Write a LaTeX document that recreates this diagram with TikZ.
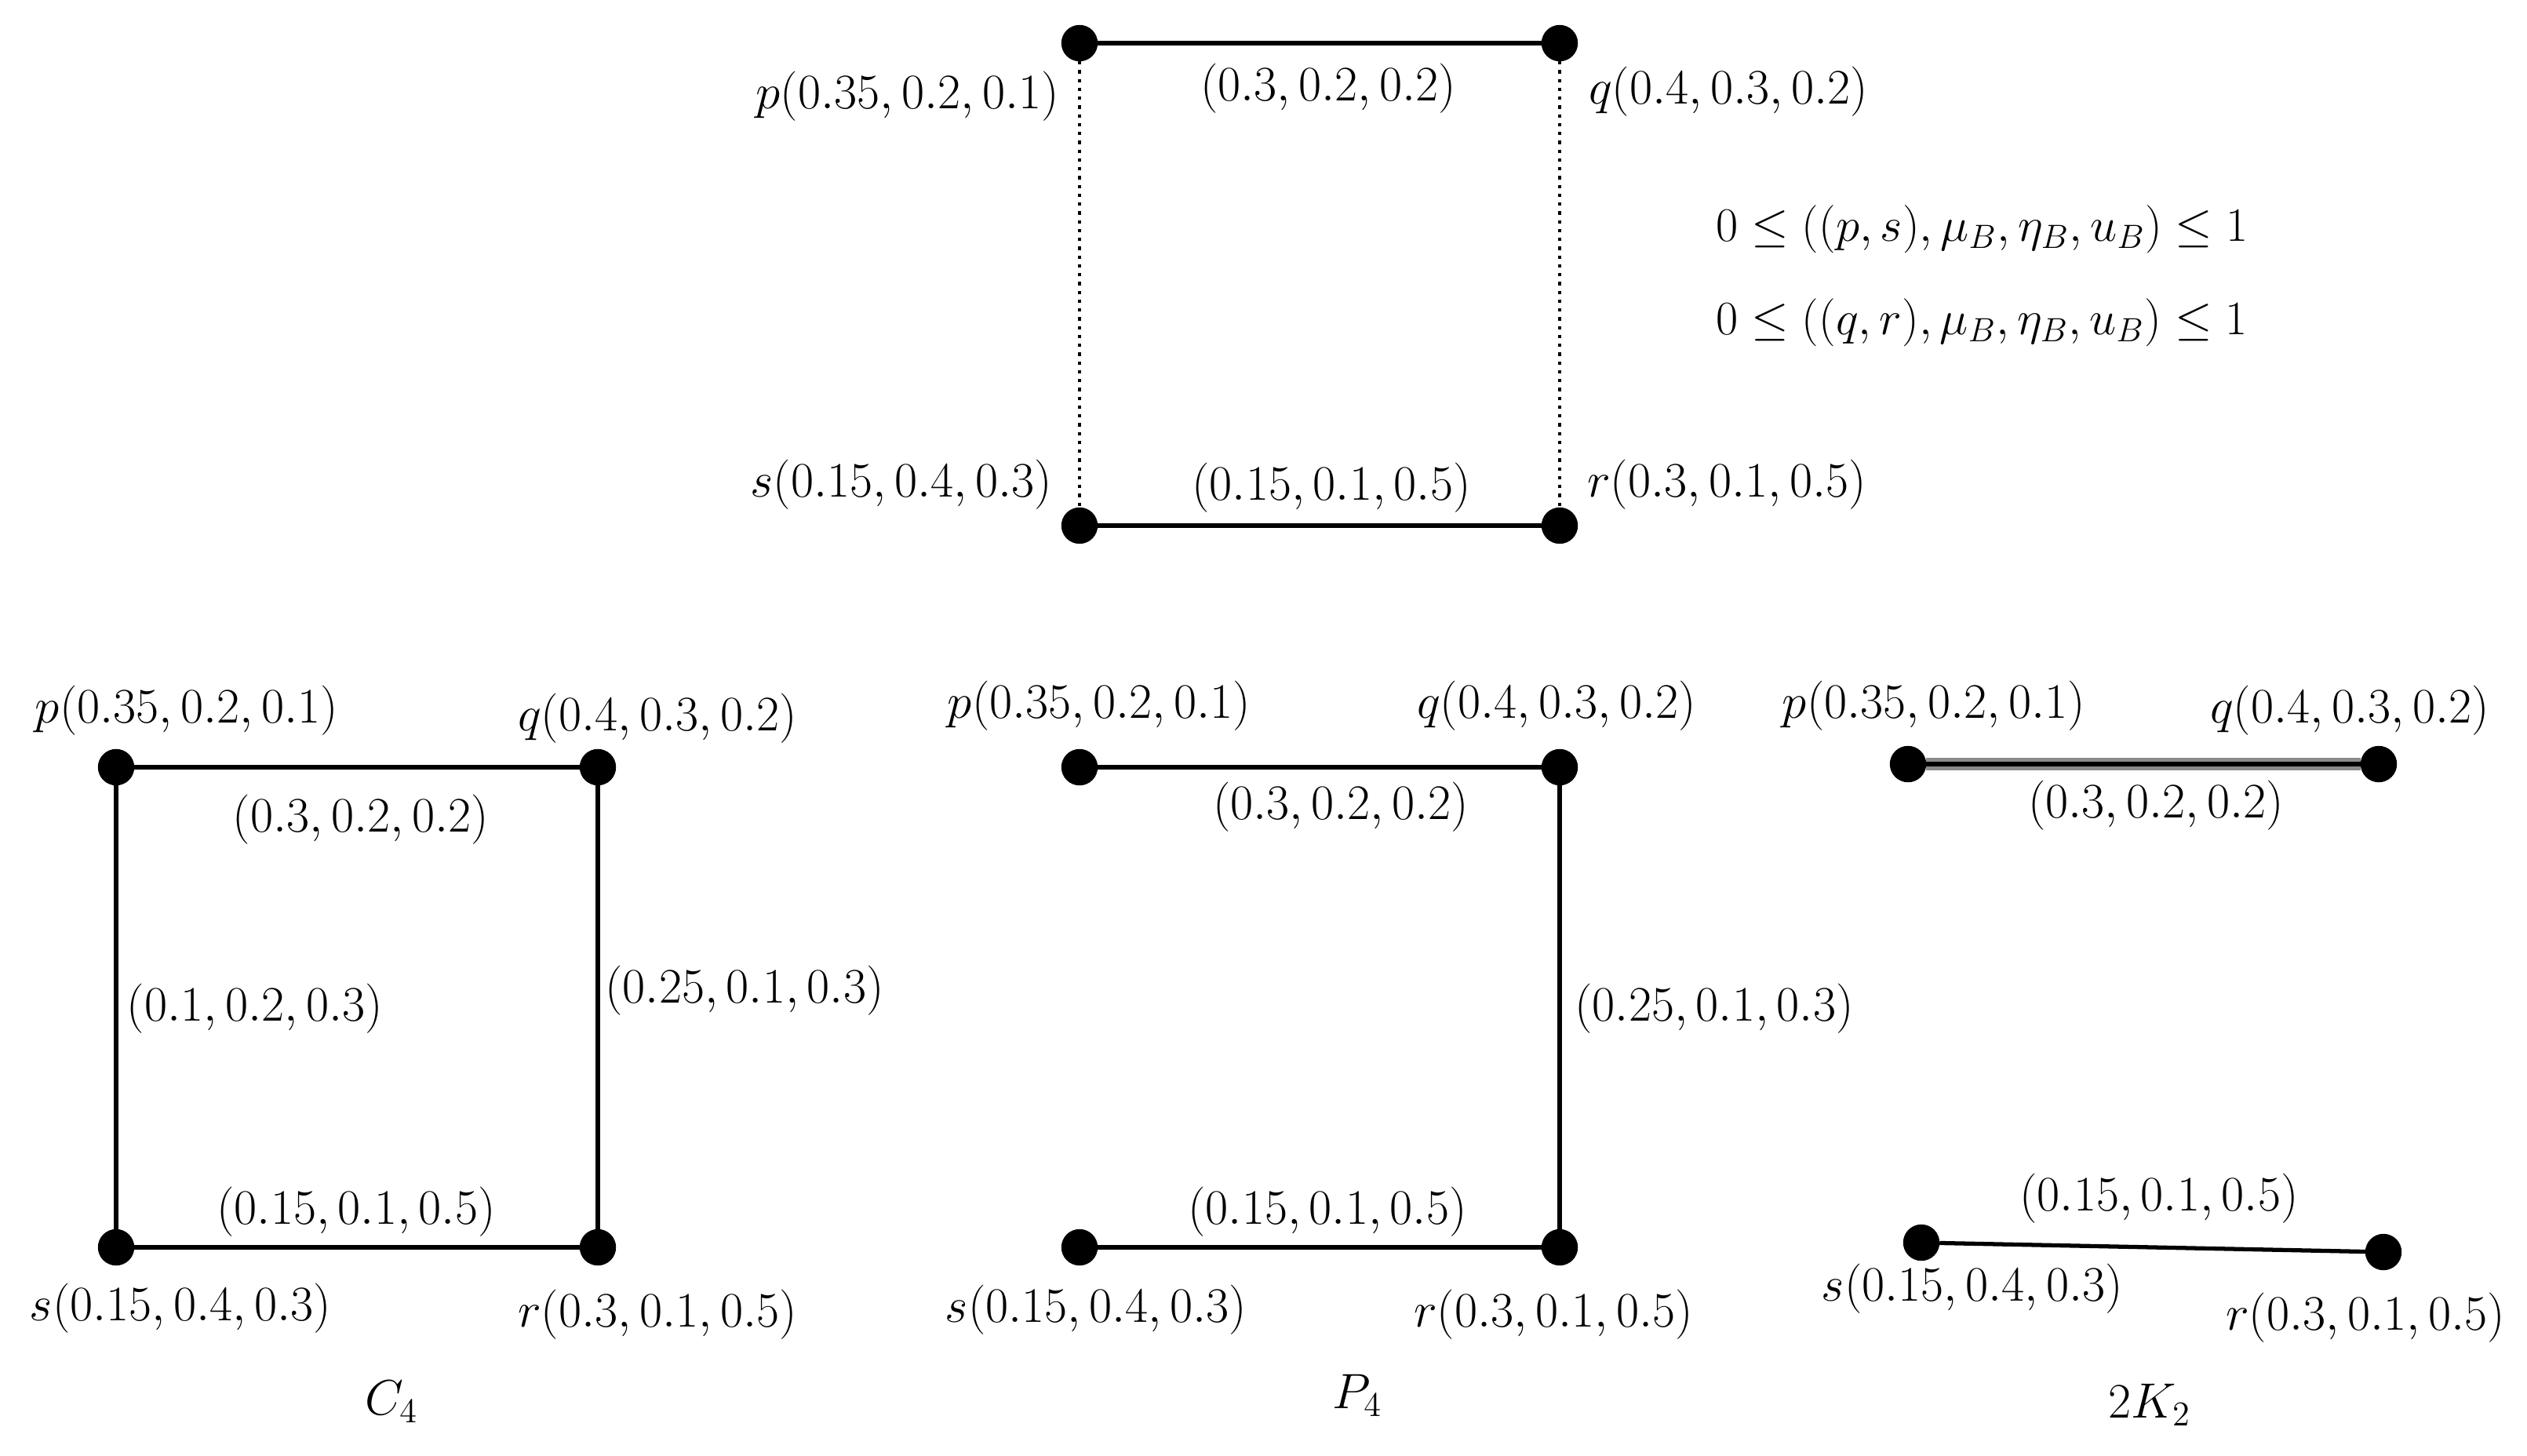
\documentclass[tikz,border=0pt]{standalone}
\usepackage{fix-cm}
\usepackage{tikz}
\usetikzlibrary{positioning}
\tikzstyle{vertex} = [circle, fill=black, draw=black, inner sep=0pt, minimum size=0.45cm]
\tikzstyle{lbl} = [inner sep=1pt, font=\fontsize{18}{22}\selectfont]
\tikzstyle{bound} = [inner sep=1pt, font=\fontsize{17.4}{21}\selectfont]
\tikzstyle{edge} = [line width=1.5pt]
\tikzstyle{strong} = [line width=1.2pt, dotted]

\begin{document}
\begin{tikzpicture}
\useasboundingbox (0,0) rectangle (32.21,18.55);

%% Top graph with the two bounds
\node (tp) [vertex] at (13.76,18.00) {};
\node (tq) [vertex] at (19.88,18.00) {};
\node (ts) [vertex] at (13.76,11.85) {};
\node (tr) [vertex] at (19.88,11.85) {};
\node (tpl) [lbl, anchor=east] at (13.54,17.32) {$p(0.35,0.2,0.1)$};
\node (tql) [lbl, anchor=west] at (20.21,17.38) {$q(0.4,0.3,0.2)$};
\node (tsl) [lbl, anchor=east] at (13.45,12.37) {$s(0.15,0.4,0.3)$};
\node (trl) [lbl, anchor=west] at (20.19,12.37) {$r(0.3,0.1,0.5)$};
\node (tpq) [lbl] at (16.93,17.42) {$(0.3,0.2,0.2)$};
\node (tsr) [lbl] at (16.97,12.33) {$(0.15,0.1,0.5)$};
\node (ineq1) [bound, anchor=west] at (21.83,15.63) {$0\leq((p,s),\mu_B,\eta_B,u_B)\leq 1$};
\node (ineq2) [bound, anchor=west] at (21.83,14.44) {$0\leq((q,r),\mu_B,\eta_B,u_B)\leq 1$};

\draw [edge] (tp)--(tq);
\draw [edge] (ts)--(tr);
\draw [strong] (tp)--(ts);
\draw [strong] (tq)--(tr);

%% C_4
\node (cp) [vertex] at (1.48,8.77) {};
\node (cq) [vertex] at (7.62,8.77) {};
\node (cs) [vertex] at (1.48,2.65) {};
\node (cr) [vertex] at (7.62,2.65) {};
\node (cpl) [lbl] at (2.38,9.49) {$p(0.35,0.2,0.1)$};
\node (cql) [lbl] at (8.38,9.39) {$q(0.4,0.3,0.2)$};
\node (csl) [lbl] at (2.30,1.87) {$s(0.15,0.4,0.3)$};
\node (crl) [lbl] at (8.38,1.79) {$r(0.3,0.1,0.5)$};
\node (cpq) [lbl] at (4.60,8.10) {$(0.3,0.2,0.2)$};
\node (cps) [lbl] at (3.25,5.69) {$(0.1,0.2,0.3)$};
\node (cqr) [lbl] at (9.49,5.92) {$(0.25,0.1,0.3)$};
\node (csr) [lbl] at (4.54,3.10) {$(0.15,0.1,0.5)$};
\node (cname) [lbl] at (4.99,0.68) {$C_4$};

\draw [edge] (cp)--(cq);
\draw [edge] (cq)--(cr);
\draw [edge] (cr)--(cs);
\draw [edge] (cs)--(cp);

%% P_4
\node (pp) [vertex] at (13.76,8.77) {};
\node (pq) [vertex] at (19.88,8.77) {};
\node (ps) [vertex] at (13.76,2.65) {};
\node (pr) [vertex] at (19.88,2.65) {};
\node (ppl) [lbl] at (14.01,9.55) {$p(0.35,0.2,0.1)$};
\node (pql) [lbl] at (19.84,9.55) {$q(0.4,0.3,0.2)$};
\node (psl) [lbl] at (13.97,1.85) {$s(0.15,0.4,0.3)$};
\node (prl) [lbl] at (19.80,1.79) {$r(0.3,0.1,0.5)$};
\node (ppq) [lbl] at (17.09,8.26) {$(0.3,0.2,0.2)$};
\node (pqr) [lbl] at (21.85,5.69) {$(0.25,0.1,0.3)$};
\node (psr) [lbl] at (16.92,3.10) {$(0.15,0.1,0.5)$};
\node (pname) [lbl] at (17.30,0.76) {$P_4$};

\draw [edge] (pp)--(pq);
\draw [edge] (pq)--(pr);
\draw [edge] (pr)--(ps);

%% 2K_2
\node (kp) [vertex] at (24.32,8.81) {};
\node (kq) [vertex] at (30.32,8.81) {};
\node (ks) [vertex] at (24.49,2.71) {};
\node (kr) [vertex] at (30.38,2.59) {};
\node (kpl) [lbl] at (24.65,9.55) {$p(0.35,0.2,0.1)$};
\node (kql) [lbl] at (29.95,9.49) {$q(0.4,0.3,0.2)$};
\node (ksl) [lbl] at (25.14,2.12) {$s(0.15,0.4,0.3)$};
\node (krl) [lbl] at (30.15,1.75) {$r(0.3,0.1,0.5)$};
\node (kpq) [lbl] at (27.48,8.28) {$(0.3,0.2,0.2)$};
\node (ksr) [lbl] at (27.52,3.27) {$(0.15,0.1,0.5)$};
\node (kname) [lbl] at (27.40,0.64) {$2K_2$};

\draw [line width=4.5pt, black!45] (kp)--(kq);
\draw [edge] (kp)--(kq);
\draw [edge] (ks)--(kr);
\end{tikzpicture}
\end{document}
